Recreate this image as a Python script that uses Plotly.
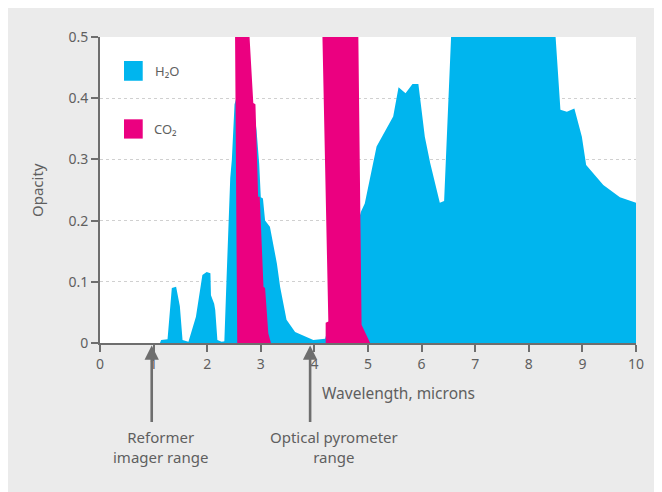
import plotly.graph_objects as go

# ---- data ----
h2o_x = [1.12, 1.14, 1.26, 1.34, 1.42, 1.49, 1.54, 1.65, 1.79, 1.91, 1.99, 2.06, 2.07, 2.13,
         2.15, 2.19, 2.27, 2.32, 2.36, 2.43, 2.46, 2.51, 2.65, 2.86, 2.92, 2.97, 3.00, 3.04,
         3.08, 3.17, 3.30, 3.36, 3.48, 3.64, 3.98, 4.20, 4.50, 4.87, 4.94, 5.16, 5.47, 5.57,
         5.70, 5.83, 5.94, 6.06, 6.16, 6.34, 6.42, 6.55, 8.50, 8.59, 8.71, 8.85, 8.99, 9.07,
         9.39, 9.70, 10.0, 10.0]
h2o_y = [0.0, 0.005, 0.006, 0.090, 0.092, 0.060, 0.005, 0.002, 0.043, 0.111, 0.116, 0.114, 0.078, 0.064,
         0.054, 0.005, 0.002, 0.003, 0.103, 0.270, 0.300, 0.390, 0.430, 0.390, 0.348, 0.293, 0.238, 0.236,
         0.200, 0.190, 0.130, 0.092, 0.038, 0.018, 0.005, 0.007, 0.100, 0.215, 0.228, 0.321, 0.370, 0.418,
         0.408, 0.423, 0.423, 0.337, 0.294, 0.229, 0.232, 0.500, 0.500, 0.381, 0.378, 0.383, 0.337, 0.291,
         0.258, 0.238, 0.229, 0.0]

co2_band1_x = [2.56, 2.52, 2.79, 2.86, 2.90, 2.95, 2.98, 3.05, 3.08, 3.14, 3.19]
co2_band1_y = [0.0, 0.50, 0.50, 0.392, 0.390, 0.239, 0.239, 0.092, 0.090, 0.016, 0.0]

co2_band2_x = [4.21, 4.21, 4.26, 4.15, 4.82, 4.88, 5.04]
co2_band2_y = [0.0, 0.033, 0.035, 0.50, 0.50, 0.030, 0.0]

x_ticks = [0, 1, 2, 3, 4, 5, 6, 7, 8, 9, 10]
y_ticks = [0, 0.1, 0.2, 0.3, 0.4, 0.5]
y_tick_labels = ["0", "0.1", "0.2", "0.3", "0.4", "0.5"]

reformer_x = 0.965
pyrometer_x = 3.92

CYAN = "#00B5EE"
MAGENTA = "#EB0080"
AXIS = "#6E6E6E"
TEXT = "#5F5F5F"
FONT = "Noto Sans, Open Sans, sans-serif"

fig = go.Figure()

fig.add_trace(go.Scatter(x=h2o_x, y=h2o_y, mode="lines", fill="toself",
                         fillcolor=CYAN, line=dict(width=0, color=CYAN),
                         hoverinfo="skip", showlegend=False))
for bx, by in ((co2_band1_x, co2_band1_y), (co2_band2_x, co2_band2_y)):
    fig.add_trace(go.Scatter(x=bx, y=by, mode="lines", fill="toself",
                             fillcolor=MAGENTA, line=dict(width=0, color=MAGENTA),
                             hoverinfo="skip", showlegend=False))

shapes = [
    # legend squares
    dict(type="rect", xref="paper", yref="paper", x0=0.0448, x1=0.0797, y0=0.857, y1=0.9216,
         fillcolor=CYAN, line=dict(width=0)),
    dict(type="rect", xref="paper", yref="paper", x0=0.0448, x1=0.0797, y0=0.668, y1=0.731,
         fillcolor=MAGENTA, line=dict(width=0)),
]

annotations = [
    dict(xref="paper", yref="paper", x=0.0984, y=0.8894, text="H₂O", showarrow=False,
         xanchor="left", yanchor="middle", font=dict(size=13, color=TEXT, family=FONT)),
    dict(xref="paper", yref="paper", x=0.0970, y=0.6993, text="CO₂", showarrow=False,
         xanchor="left", yanchor="middle", font=dict(size=13, color=TEXT, family=FONT)),
    dict(xref="paper", yref="paper", x=0.5576, y=-0.163, text="Wavelength, microns",
         showarrow=False, xanchor="center", yanchor="middle",
         font=dict(size=15.5, color=TEXT, family=FONT)),
    dict(xref="paper", yref="paper", x=-0.1175, y=0.5, text="Opacity", textangle=-90,
         showarrow=False, xanchor="center", yanchor="middle",
         font=dict(size=15, color=TEXT, family=FONT)),
    # arrows
    dict(xref="x", yref="paper", x=reformer_x, y=-0.008, ax=0, ay=78, axref="pixel", ayref="pixel",
         text="", showarrow=True, arrowhead=2, arrowsize=1.1, arrowwidth=2.6, arrowcolor=AXIS),
    dict(xref="x", yref="paper", x=pyrometer_x, y=-0.008, ax=0, ay=78, axref="pixel", ayref="pixel",
         text="", showarrow=True, arrowhead=2, arrowsize=1.1, arrowwidth=2.6, arrowcolor=AXIS),
    dict(xref="paper", yref="paper", x=(160.7 - 100) / 536, y=(343 - 446.5) / 306,
         text="Reformer<br>imager range", showarrow=False, xanchor="center", yanchor="middle",
         align="center", font=dict(size=15, color=TEXT, family=FONT)),
    dict(xref="paper", yref="paper", x=(334 - 100) / 536, y=(343 - 446.5) / 306,
         text="Optical pyrometer<br>range", showarrow=False, xanchor="center", yanchor="middle",
         align="center", font=dict(size=15, color=TEXT, family=FONT)),
]

fig.update_layout(
    width=662, height=492,
    margin=dict(l=92, r=34, t=29, b=157),
    paper_bgcolor="#EBEBEB",
    plot_bgcolor="white",
    shapes=shapes,
    annotations=annotations,
    showlegend=False,
    font=dict(family=FONT, color=TEXT, size=13),
)

fig.update_xaxes(
    range=[0, 10], tickvals=x_ticks, ticktext=[str(v) for v in x_ticks],
    showgrid=False, zeroline=False, showline=True, linecolor=AXIS, linewidth=2,
    ticks="outside", ticklen=7, tickwidth=1.5, tickcolor=AXIS,
    tickfont=dict(size=14, color=TEXT, family=FONT), fixedrange=True,
)
fig.update_yaxes(
    range=[0, 0.5], tickvals=y_ticks, ticktext=y_tick_labels,
    showgrid=True, gridcolor="#D0D0D0", griddash="dot", gridwidth=1,
    zeroline=False, showline=True, linecolor=AXIS, linewidth=2,
    ticks="outside", ticklen=7, tickwidth=1.5, tickcolor=AXIS,
    tickfont=dict(size=14, color=TEXT, family=FONT), fixedrange=True,
)

fig.write_html("out.html")
